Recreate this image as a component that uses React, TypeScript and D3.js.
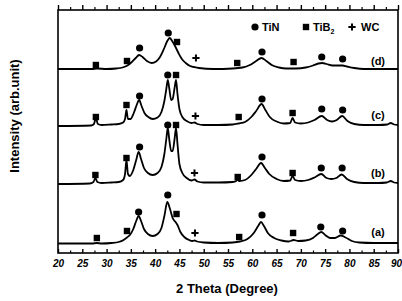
import { useEffect, useRef } from "react";
import * as d3 from "d3";

// XRD patterns: [2theta, intensity above own baseline]
const thetaTicks = [20, 25, 30, 35, 40, 45, 50, 55, 60, 65, 70, 75, 80, 85, 90];
const minorTicks = [22.5, 27.5, 32.5, 37.5, 42.5, 47.5, 52.5, 57.5, 62.5, 67.5, 72.5, 77.5, 82.5, 87.5];
const sampleLabels = ["(a)", "(b)", "(c)", "(d)"];
const offsets = [9, 69, 127, 184];

const traceA = [
  [20, 0.5], [24, 0.5], [27, 0.5], [28, 1], [29, 0.5], [31, 1], [32.5, 2], [33.5, 4], [34.2, 6.5], [34.8, 9],
  [35.5, 15], [36.1, 23], [36.6, 28], [37.1, 23], [37.7, 15], [38.5, 10], [39.5, 8], [40.5, 10], [41.3, 16],
  [41.9, 28], [42.5, 42], [43.0, 36], [43.6, 26], [44.2, 22], [44.6, 19], [45.2, 12], [46, 7], [47, 4],
  [47.7, 3], [48.1, 3.5], [48.6, 2.5], [50, 1.5], [53, 1], [56, 1.5], [57.5, 2.5], [59, 5], [60.3, 11],
  [61.2, 18], [61.8, 22], [62.4, 18], [63.2, 11], [64.5, 6], [66, 3.5], [67.5, 2.5], [68.5, 4], [69.5, 3],
  [71, 3.5], [72.5, 6], [73.5, 10], [74.2, 12], [75, 9], [76, 6], [77, 6], [78.2, 8.5], [79.2, 6.5],
  [80.5, 3], [82, 1.5], [85, 1], [90, 1],
];
const traceB = [
  [20, 0], [26.5, 0.5], [27.3, 2], [27.7, 6], [28.1, 2], [29, 1], [31, 1.5], [32.5, 2], [33.4, 4], [33.8, 10],
  [34.1, 24], [34.4, 10], [34.8, 8], [35.5, 14], [36.1, 24], [36.6, 32], [37.1, 25], [37.7, 16], [38.5, 11],
  [39.5, 9], [40.5, 11], [41.3, 17], [41.9, 30], [42.3, 45], [42.6, 56], [42.9, 45], [43.3, 33], [43.6, 33],
  [44.0, 45], [44.3, 56], [44.6, 40], [45.0, 20], [45.6, 11], [46.5, 6], [47.5, 3.5], [48.1, 4.5], [48.7, 2.5],
  [50, 1.5], [53, 1.5], [56, 2], [56.7, 3], [57.0, 5], [57.3, 3], [58.5, 4], [59.8, 9], [60.8, 15], [61.8, 21],
  [62.6, 16], [63.5, 10], [65, 5], [66.5, 3], [67.8, 3.5], [68.3, 8], [68.8, 4], [70, 3], [71.5, 4],
  [72.8, 6.5], [74.2, 10], [75.3, 6], [76.3, 5], [77.3, 6], [78.4, 9.5], [79.5, 5], [81, 2], [83, 1],
  [86, 1], [87.7, 1.5], [88.5, 3], [89.2, 1.5], [90, 1],
];
const traceC = [
  [20, 0], [26.8, 0.5], [27.4, 2], [27.8, 8], [28.2, 2], [29, 1], [31, 1.5], [32.5, 2], [33.4, 3.5], [33.8, 7],
  [34.1, 16], [34.4, 7], [34.9, 7], [35.6, 13], [36.2, 21], [36.7, 26], [37.2, 20], [37.8, 13], [38.6, 9],
  [39.5, 7], [40.5, 8.5], [41.3, 14], [41.9, 25], [42.3, 37], [42.6, 46], [42.9, 38], [43.3, 26], [43.6, 27],
  [44.0, 38], [44.3, 46], [44.6, 32], [45.0, 17], [45.6, 9], [46.5, 5], [47.5, 3], [48.1, 3.5], [48.7, 2],
  [50, 1], [53, 1], [56, 1.5], [57.2, 2.5], [58.5, 4], [59.8, 9], [60.8, 15], [61.9, 22], [62.7, 16],
  [63.6, 9], [65, 4.5], [66.5, 2.5], [67.8, 3], [68.3, 8], [68.8, 3.5], [70, 2.5], [71.5, 3.5], [72.8, 6],
  [74.3, 10], [75.4, 6], [76.4, 4.5], [77.4, 6], [78.5, 10], [79.6, 5], [81, 2], [83, 1], [86, 1],
  [87.8, 1.5], [88.5, 3], [89.2, 1.5], [90, 1],
];
const traceD = [
  [20, 0], [27, 0], [28, 0.5], [30, 0], [32, 0.5], [33.3, 1.5], [34.3, 3.5], [35.2, 7], [36.0, 11], [36.7, 14],
  [37.4, 12], [38.3, 8], [39.3, 6], [40.2, 7.5], [41.0, 12], [41.8, 20], [42.5, 28], [43.0, 31], [43.5, 28],
  [44.2, 22], [44.8, 16], [45.5, 10], [46.3, 6], [47.2, 3], [48, 2], [49, 1], [52, 0], [56, 0.5], [58, 1.5],
  [59.5, 4], [60.8, 8], [61.9, 11], [62.9, 8], [64, 4], [65.5, 1.5], [67, 0.5], [69, 0.5], [71, 1.5],
  [72.5, 3.5], [73.6, 5.5], [74.4, 6], [75.3, 5], [76.5, 3.5], [77.7, 3.5], [78.6, 3.5], [79.5, 2.5],
  [81, 1], [83, 0], [90, 0],
];

// phase markers: [phase, 2theta, height above baseline]
const markersA = [
  ["TiB2", 28.0, 6], ["TiB2", 34.2, 13], ["TiN", 36.6, 32], ["TiN", 42.6, 49], ["TiB2", 44.4, 30],
  ["WC", 48.2, 11], ["TiB2", 57.3, 7], ["TiN", 62.0, 29], ["TiB2", 68.4, 11], ["TiN", 74.1, 17], ["TiN", 78.6, 13],
];
const markersB = [
  ["TiB2", 27.7, 9], ["TiB2", 34.1, 26], ["TiN", 36.8, 37], ["TiN", 42.6, 59], ["TiB2", 44.3, 59],
  ["WC", 48.1, 11], ["TiB2", 57.0, 7], ["TiN", 62.0, 27], ["TiB2", 68.3, 11], ["TiN", 74.2, 16], ["TiN", 78.5, 16],
];
const markersC = [
  ["TiB2", 27.8, 9], ["TiB2", 34.1, 21], ["TiN", 36.8, 30], ["TiN", 42.6, 51], ["TiB2", 44.3, 51],
  ["WC", 48.3, 10], ["TiB2", 57.2, 9], ["TiN", 62.0, 27], ["TiB2", 68.3, 13], ["TiN", 74.3, 17], ["TiN", 78.6, 16],
];
const markersD = [
  ["TiB2", 27.8, 4], ["TiB2", 34.2, 8], ["TiN", 36.8, 21], ["TiN", 42.7, 36], ["TiB2", 44.5, 27],
  ["WC", 48.4, 11], ["TiB2", 56.9, 6], ["TiN", 62.0, 17], ["TiB2", 68.5, 7], ["TiN", 74.3, 12], ["TiN", 78.6, 10],
];

const traces = [traceA, traceB, traceC, traceD];
const markerSets = [markersA, markersB, markersC, markersD];

const FONT = "'Liberation Sans', Arial, sans-serif";

function drawMarker(g: any, phase: string, cx: number, cy: number) {
  if (phase === "TiN") {
    g.append("circle").attr("cx", cx).attr("cy", cy).attr("r", 3.6).attr("fill", "#000");
  } else if (phase === "TiB2") {
    g.append("rect").attr("x", cx - 3.2).attr("y", cy - 3.2).attr("width", 6.4).attr("height", 6.4).attr("fill", "#000");
  } else {
    g.append("path")
      .attr("d", `M${cx - 3.6},${cy}H${cx + 3.6}M${cx},${cy - 3.6}V${cy + 3.6}`)
      .attr("stroke", "#000").attr("stroke-width", 2).attr("fill", "none");
  }
}

const XrdChart = ({ width, height }: { width: number; height: number }) => {
  const svgRef = useRef<SVGSVGElement>(null);

  useEffect(() => {
    const svg = d3.select(svgRef.current);
    svg.selectAll("*").remove();

    const left = 58, right = 398, top = 10, bottom = 253;
    const labelLift = [8, 7, 7, 4];

    const x = d3.scaleLinear().domain([20, 90]).range([left, right]);
    const y = d3.scaleLinear().domain([0, bottom - top]).range([bottom, top]);

    svg.append("clipPath").attr("id", "plot-clip")
      .append("rect").attr("x", left).attr("y", top).attr("width", right - left).attr("height", bottom - top);

    // bottom axis, ticks inward
    const xAxis = svg.append("g")
      .attr("transform", `translate(0,${bottom})`)
      .call(d3.axisBottom(x).tickValues(thetaTicks).tickSize(-4).tickPadding(7).tickFormat(d3.format("d")));
    xAxis.select(".domain").remove();
    xAxis.selectAll("line").attr("stroke-width", 1.4);
    xAxis.selectAll("text")
      .attr("font-family", FONT).attr("font-size", 10).attr("font-weight", "bold")
      .attr("font-style", "italic").attr("fill", "#000");
    // keep the last label inside the picture
    xAxis.selectAll("text").filter((d: any) => d === 90).attr("dx", -2);

    const xMinor = svg.append("g")
      .attr("transform", `translate(0,${bottom})`)
      .call(d3.axisBottom(x).tickValues(minorTicks).tickSize(-2.5).tickFormat(() => ""));
    xMinor.select(".domain").remove();
    xMinor.selectAll("line").attr("stroke-width", 1.2);

    // top axis, ticks outward
    const topAxis = svg.append("g")
      .attr("transform", `translate(0,${top})`)
      .call(d3.axisTop(x).tickValues(thetaTicks).tickSize(5).tickFormat(() => ""));
    topAxis.select(".domain").remove();
    topAxis.selectAll("line").attr("stroke-width", 1.4);
    const topMinor = svg.append("g")
      .attr("transform", `translate(0,${top})`)
      .call(d3.axisTop(x).tickValues(minorTicks).tickSize(3).tickFormat(() => ""));
    topMinor.select(".domain").remove();
    topMinor.selectAll("line").attr("stroke-width", 1.2);

    // frame
    svg.append("rect")
      .attr("x", left).attr("y", top).attr("width", right - left).attr("height", bottom - top)
      .attr("fill", "none").attr("stroke", "#000").attr("stroke-width", 1.6);

    const line = d3.line<number[]>()
      .x(d => x(d[0]))
      .y(d => y(d[1]))
      .curve(d3.curveMonotoneX);

    const plot = svg.append("g").attr("clip-path", "url(#plot-clip)");
    traces.forEach((tr, i) => {
      const off = offsets[i];
      plot.append("path")
        .datum(tr.map(p => [p[0], p[1] + off]))
        .attr("fill", "none")
        .attr("stroke", "#000")
        .attr("stroke-width", 1.8)
        .attr("stroke-linejoin", "round")
        .attr("d", line);
    });

    const marks = svg.append("g");
    markerSets.forEach((ms, i) => {
      ms.forEach(m => drawMarker(marks, m[0] as string, x(m[1] as number), y((m[2] as number) + offsets[i])));
    });

    // sample labels
    sampleLabels.forEach((lab, i) => {
      svg.append("text")
        .attr("x", 378).attr("y", y(offsets[i] + labelLift[i]))
        .attr("text-anchor", "middle")
        .attr("font-family", FONT).attr("font-size", 11).attr("font-weight", "bold")
        .text(lab);
    });

    // legend
    const lg = svg.append("g").attr("font-family", FONT).attr("font-size", 11).attr("font-weight", "bold");
    drawMarker(lg, "TiN", 255, 27);
    lg.append("text").attr("x", 262).attr("y", 31).text("TiN");
    drawMarker(lg, "TiB2", 306, 27);
    const tb = lg.append("text").attr("x", 313).attr("y", 31);
    tb.append("tspan").text("TiB");
    tb.append("tspan").attr("font-size", 7).attr("dy", 3).text("2");
    drawMarker(lg, "WC", 352, 27);
    lg.append("text").attr("x", 361).attr("y", 31).text("WC");

    // axis titles
    svg.append("text")
      .attr("x", 227).attr("y", 293)
      .attr("text-anchor", "middle")
      .attr("font-family", FONT).attr("font-size", 13).attr("font-weight", "bold")
      .text("2 Theta (Degree)");
    svg.append("text")
      .attr("transform", `translate(19,116) rotate(-90)`)
      .attr("text-anchor", "middle")
      .attr("font-family", FONT).attr("font-size", 13).attr("font-weight", "bold")
      .text("Intensity (arb.unit)");
  }, [width, height]);

  return <svg ref={svgRef} width={width} height={height} style={{ position: "absolute", left: 0, top: 0, background: "#fff" }} />;
};

export default function App() {
  return <XrdChart width={402} height={301} />;
}
